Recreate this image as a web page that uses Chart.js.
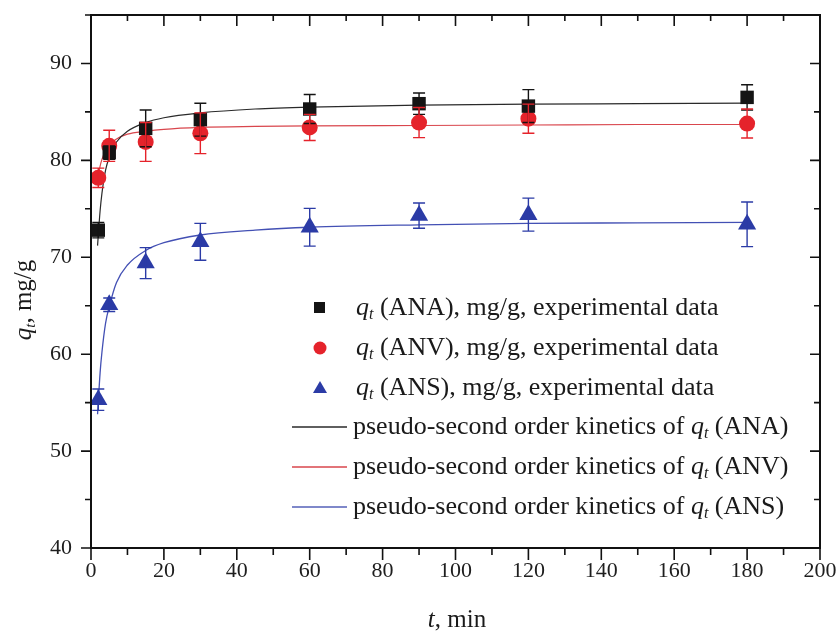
<!DOCTYPE html>
<html>
<head>
<meta charset="utf-8">
<script src="https://cdn.jsdelivr.net/npm/chart.js@4/dist/chart.umd.min.js"></script>
<style>
    html, body { margin: 0; padding: 0; background: #fff; }
    #wrap { width: 840px; height: 634px; }
</style>
</head>
<body>
<div id="wrap"><canvas id="kineticsChart" width="840" height="634"></canvas></div>
<script>
// Sampling times (min)
const timePoints = [2, 5, 15, 30, 60, 90, 120, 180];

// Experimental q_t values (mg/g) and error bars
const qtANA = [72.8, 80.8, 83.3, 84.2, 85.3, 85.85, 85.6, 86.5];
const errANA = [0.8, 0.7, 1.9, 1.7, 1.5, 1.1, 1.7, 1.3];
const qtANV = [78.2, 81.5, 81.9, 82.8, 83.4, 83.9, 84.3, 83.8];
const errANV = [1.0, 1.6, 2.0, 2.1, 1.35, 1.55, 1.5, 1.5];
const qtANS = [55.3, 65.1, 69.4, 71.6, 73.1, 74.3, 74.4, 73.4];
const errANS = [1.1, 0.7, 1.6, 1.9, 1.95, 1.3, 1.7, 2.3];

// Pseudo-second order curves
const fitTime = [1.8, 2.5, 3, 4, 5, 7, 10, 15, 20, 30, 45, 60, 90, 120, 150, 180];
const fitANA = [71.2, 74.8, 76.6, 79.0, 80.3, 81.9, 83.0, 83.9, 84.4, 84.9, 85.3, 85.5, 85.7, 85.8, 85.85, 85.9];
const fitANV = [77.9, 79.4, 80.1, 81.0, 81.6, 82.2, 82.7, 83.0, 83.2, 83.4, 83.5, 83.55, 83.6, 83.65, 83.7, 83.7];
const fitANS = [53.8, 58.1, 60.2, 63.2, 64.9, 67.4, 69.2, 70.7, 71.5, 72.3, 72.8, 73.1, 73.35, 73.5, 73.55, 73.6];

// Axis ticks
const xTicks = [0, 20, 40, 60, 80, 100, 120, 140, 160, 180, 200];
const yTicks = [40, 50, 60, 70, 80, 90];

const SERIF = '"Liberation Serif", "Times New Roman", serif';
const BLACK = '#141414';
const RED = '#e5232b';
const BLUE = '#2b3ba6';

function toPoints(xs, ys) {
    return xs.map((x, i) => ({ x: x, y: ys[i] }));
}

// Error bars with caps
const errorBarPlugin = {
    id: 'errorBars',
    afterDatasetsDraw(chart) {
        const ctx = chart.ctx;
        const yScale = chart.scales.y;
        chart.data.datasets.forEach((ds, di) => {
            if (!ds.errors) return;
            const meta = chart.getDatasetMeta(di);
            ctx.save();
            ctx.strokeStyle = ds.errorColor;
            ctx.lineWidth = 1.4;
            meta.data.forEach((pt, i) => {
                const v = ds.data[i].y;
                const top = yScale.getPixelForValue(v + ds.errors[i]);
                const bot = yScale.getPixelForValue(v - ds.errors[i]);
                ctx.beginPath();
                ctx.moveTo(pt.x, top); ctx.lineTo(pt.x, bot);
                ctx.moveTo(pt.x - 6, top); ctx.lineTo(pt.x + 6, top);
                ctx.moveTo(pt.x - 6, bot); ctx.lineTo(pt.x + 6, bot);
                ctx.stroke();
            });
            ctx.restore();
        });
    }
};

// draw a list of text runs (for italic q and subscript t)
function drawRuns(ctx, x, y, runs) {
    let cx = x;
    runs.forEach(r => {
        ctx.font = r.font;
        ctx.fillText(r.text, cx, y + (r.dy || 0));
        cx += ctx.measureText(r.text).width + (r.gap || 0);
    });
    return cx;
}
function runsWidth(ctx, runs) {
    let w = 0;
    runs.forEach(r => { ctx.font = r.font; w += ctx.measureText(r.text).width + (r.gap || 0); });
    return w;
}
function qt(size) {
    return [
        { text: 'q', font: 'italic ' + size + 'px ' + SERIF },
        { text: 't', font: 'italic ' + Math.round(size * 0.6) + 'px ' + SERIF, dy: size * 0.28 }
    ];
}

const framePlugin = {
    id: 'frame',
    afterDraw(chart) {
        const ctx = chart.ctx;
        const a = chart.chartArea;
        const xs = chart.scales.x, ys = chart.scales.y;
        ctx.save();
        ctx.strokeStyle = '#111';
        ctx.lineWidth = 2;
        ctx.strokeRect(a.left, a.top, a.right - a.left, a.bottom - a.top);

        ctx.lineWidth = 1.6;
        ctx.beginPath();
        // x ticks: outward at bottom, inward at top
        for (let v = 0; v <= 200; v += 10) {
            const px = xs.getPixelForValue(v);
            const major = v % 20 === 0;
            ctx.moveTo(px, a.bottom); ctx.lineTo(px, a.bottom + (major ? 12 : 7));
            ctx.moveTo(px, a.top); ctx.lineTo(px, a.top + (major ? 11 : 6));
        }
        // y ticks: outward at left, inward at right
        for (let v = 40; v <= 95; v += 5) {
            const py = ys.getPixelForValue(v);
            const major = v % 10 === 0;
            ctx.moveTo(a.left, py); ctx.lineTo(a.left - (major ? 10 : 6), py);
            ctx.moveTo(a.right, py); ctx.lineTo(a.right - (major ? 10 : 6), py);
        }
        ctx.stroke();

        // axis titles
        ctx.fillStyle = '#1a1a1a';
        ctx.textBaseline = 'middle';
        const xTitle = [
            { text: 't', font: 'italic 25px ' + SERIF },
            { text: ', min', font: '25px ' + SERIF }
        ];
        const xw = runsWidth(ctx, xTitle);
        drawRuns(ctx, 457 - xw / 2, 620, xTitle);

        const yTitle = qt(25).concat([{ text: ', mg/g', font: '25px ' + SERIF }]);
        const yw = runsWidth(ctx, yTitle);
        ctx.save();
        ctx.translate(24, 300);
        ctx.rotate(-Math.PI / 2);
        drawRuns(ctx, -yw / 2, 0, yTitle);
        ctx.restore();

        // legend
        const rowY = [308, 348, 388, 427, 467, 507];
        const labels = ['ANA', 'ANV', 'ANS'];
        const colors = [BLACK, RED, BLUE];
        const lineColors = ['#2a2a2a', '#d9464d', '#5560b8'];
        const fs = 26;
        const f = fs + 'px ' + SERIF;
        for (let i = 0; i < 3; i++) {
            const y = rowY[i];
            ctx.fillStyle = colors[i];
            ctx.beginPath();
            if (i === 0) ctx.rect(314, y - 6, 11, 11);
            else if (i === 1) ctx.arc(320, y, 6.5, 0, Math.PI * 2);
            else { ctx.moveTo(320, y - 7); ctx.lineTo(327, y + 5); ctx.lineTo(313, y + 5); ctx.closePath(); }
            ctx.fill();
            ctx.fillStyle = '#1a1a1a';
            drawRuns(ctx, 356, y, qt(fs).concat([{ text: ' (' + labels[i] + '), mg/g, experimental data', font: f }]));
        }
        for (let i = 0; i < 3; i++) {
            const y = rowY[i + 3];
            ctx.strokeStyle = lineColors[i];
            ctx.lineWidth = 1.3;
            ctx.beginPath(); ctx.moveTo(292, y); ctx.lineTo(347, y); ctx.stroke();
            ctx.fillStyle = '#1a1a1a';
            drawRuns(ctx, 353, y, [{ text: 'pseudo-second order kinetics of ', font: f }]
                .concat(qt(fs)).concat([{ text: ' (' + labels[i] + ')', font: f }]));
        }
        ctx.restore();
    }
};

const ctx = document.getElementById('kineticsChart').getContext('2d');
new Chart(ctx, {
    type: 'scatter',
    data: {
        datasets: [
            { label: 'ANA', data: toPoints(timePoints, qtANA), errors: errANA, errorColor: BLACK,
              pointStyle: 'rect', pointRadius: 9.5, backgroundColor: BLACK, borderColor: BLACK, borderWidth: 0 },
            { label: 'ANV', data: toPoints(timePoints, qtANV), errors: errANV, errorColor: RED,
              pointStyle: 'circle', pointRadius: 8, backgroundColor: RED, borderColor: RED, borderWidth: 0 },
            { label: 'ANS', data: toPoints(timePoints, qtANS), errors: errANS, errorColor: BLUE,
              pointStyle: 'triangle', pointRadius: 10.5, backgroundColor: BLUE, borderColor: BLUE, borderWidth: 0 },
            { label: 'fit ANA', data: toPoints(fitTime, fitANA), showLine: true, pointRadius: 0,
              borderColor: '#2a2a2a', borderWidth: 1.2, cubicInterpolationMode: 'monotone' },
            { label: 'fit ANV', data: toPoints(fitTime, fitANV), showLine: true, pointRadius: 0,
              borderColor: '#d9464d', borderWidth: 1.2, cubicInterpolationMode: 'monotone' },
            { label: 'fit ANS', data: toPoints(fitTime, fitANS), showLine: true, pointRadius: 0,
              borderColor: '#4350b4', borderWidth: 1.3, cubicInterpolationMode: 'monotone' }
        ]
    },
    options: {
        responsive: false,
        animation: false,
        devicePixelRatio: 1,
        layout: { padding: { top: 15, right: 20, left: 0, bottom: 0 } },
        plugins: { legend: { display: false }, tooltip: { enabled: false } },
        scales: {
            x: {
                type: 'linear', min: 0, max: 200,
                afterBuildTicks: s => { s.ticks = xTicks.map(v => ({ value: v })); },
                afterFit: s => { s.height = 86; s.paddingLeft = 0; s.paddingRight = 0; },
                grid: { display: false, drawTicks: false }, border: { display: false },
                ticks: { padding: 10, color: '#1e1e1e', font: { family: SERIF, size: 22 } }
            },
            y: {
                type: 'linear', min: 40, max: 95,
                afterBuildTicks: s => { s.ticks = yTicks.map(v => ({ value: v })); },
                afterFit: s => { s.width = 91; s.paddingTop = 0; s.paddingBottom = 0; },
                grid: { display: false, drawTicks: false }, border: { display: false },
                ticks: { padding: 19, color: '#1e1e1e', font: { family: SERIF, size: 22 } }
            }
        }
    },
    plugins: [errorBarPlugin, framePlugin]
});
</script>
</body>
</html>
